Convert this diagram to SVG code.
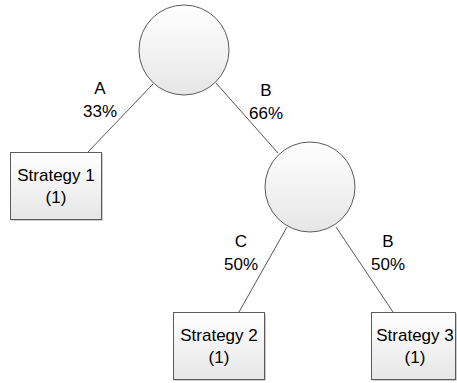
<svg xmlns="http://www.w3.org/2000/svg" width="457" height="383" viewBox="0 0 457 383">
<defs>
<linearGradient id="g" x1="0" y1="0" x2="0" y2="1">
<stop offset="0" stop-color="#ffffff"/>
<stop offset="1" stop-color="#e6e6e6"/>
</linearGradient>
</defs>
<style>
.n{fill:url(#g);stroke:#5a5a5a;stroke-width:1}
.sh{fill:#9a9a9a}
.c{stroke:#555;stroke-width:1;fill:none}
text{font-family:"Liberation Sans",Arial,sans-serif;font-size:17px;fill:#000;text-anchor:middle}
</style>
<rect width="457" height="383" fill="#fff"/>
<g id="connectors">
<line class="c" x1="153" y1="84" x2="88" y2="152"/>
<line class="c" x1="216" y1="83" x2="278" y2="153"/>
<line class="c" x1="287" y1="227" x2="239" y2="312"/>
<line class="c" x1="336" y1="227" x2="393" y2="312"/>
</g>
<g id="labels">
<text x="100" y="94">A</text>
<text x="100" y="117">33%</text>
<text x="266" y="96">B</text>
<text x="266" y="119">66%</text>
<text x="241" y="247">C</text>
<text x="241" y="270">50%</text>
<text x="388" y="247">B</text>
<text x="388" y="270">50%</text>
</g>
<g id="chance1">
<circle cx="184" cy="50" r="45" class="n"/>
</g>
<g id="chance2">
<circle cx="310" cy="187" r="45" class="n"/>
</g>
<g id="strategy1">
<rect x="11.5" y="153.5" width="91" height="67" class="sh"/>
<rect x="10.5" y="152.5" width="91" height="67" class="n"/>
<text x="56" y="181">Strategy 1</text>
<text x="56" y="203">(1)</text>
</g>
<g id="strategy2">
<rect x="174.5" y="313.5" width="91" height="67" class="sh"/>
<rect x="173.5" y="312.5" width="91" height="67" class="n"/>
<text x="219" y="341">Strategy 2</text>
<text x="219" y="363">(1)</text>
</g>
<g id="strategy3">
<rect x="372.5" y="313.5" width="84" height="67" class="sh"/>
<rect x="371.5" y="312.5" width="84" height="67" class="n"/>
<text x="415" y="341">Strategy 3</text>
<text x="415" y="363">(1)</text>
</g>
</svg>
